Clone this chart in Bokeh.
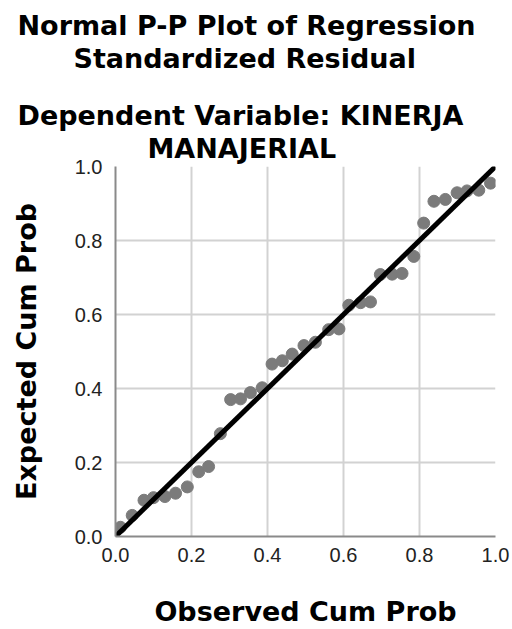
from bokeh.plotting import figure
from bokeh.models import Range1d, FixedTicker, Title, PrintfTickFormatter
from bokeh.embed import file_html
from bokeh.resources import INLINE

# ---- data ----
observed_cum_prob = [0.013, 0.044, 0.075, 0.100, 0.130, 0.158, 0.189, 0.219, 0.245,
                     0.276, 0.303, 0.329, 0.355, 0.386, 0.412, 0.439, 0.465, 0.496,
                     0.526, 0.561, 0.588, 0.614, 0.645, 0.671, 0.697, 0.728, 0.754,
                     0.785, 0.811, 0.838, 0.868, 0.899, 0.925, 0.956, 0.987]
expected_cum_prob = [0.025, 0.057, 0.098, 0.105, 0.108, 0.117, 0.134, 0.175, 0.189,
                     0.278, 0.370, 0.372, 0.389, 0.402, 0.466, 0.475, 0.493, 0.516,
                     0.525, 0.559, 0.561, 0.625, 0.632, 0.634, 0.708, 0.709, 0.711,
                     0.757, 0.847, 0.906, 0.911, 0.929, 0.934, 0.936, 0.955]
diag_x = [0.0, 1.0]
diag_y = [0.0, 1.0]
tick_values = [0.0, 0.2, 0.4, 0.6, 0.8, 1.0]
title_lines = ["Normal P-P Plot of Regression", "Standardized Residual",
               "Dependent Variable: KINERJA", "MANAJERIAL"]
x_title = "Observed Cum Prob"
y_title = "Expected Cum Prob"

p = figure(width=512, height=629, output_backend="svg", toolbar_location=None,
           x_range=Range1d(0, 1), y_range=Range1d(0, 1),
           min_border_left=115, min_border_right=17, min_border_top=0, min_border_bottom=93)
p.title.visible = False
p.outline_line_color = None
p.background_fill_color = "white"
p.border_fill_color = "white"

for ax in (p.xaxis[0], p.yaxis[0]):
    ax.ticker = FixedTicker(ticks=tick_values)
    ax.formatter = PrintfTickFormatter(format="%.1f")
    ax.major_tick_in = 0
    ax.major_tick_out = 0
    ax.minor_tick_in = 0
    ax.minor_tick_out = 0
    ax.axis_line_color = "#8a8a8a"
    ax.axis_line_width = 2
    ax.major_label_text_font = "Liberation Sans"
    ax.major_label_text_font_size = "20px"
    ax.major_label_text_color = "#222222"
    ax.axis_label_text_font = "DejaVu Sans"
    ax.axis_label_text_font_style = "bold"
    ax.axis_label_text_font_size = "27px"
    ax.axis_label_text_color = "#000000"

p.xaxis.axis_label = x_title
p.yaxis.axis_label = y_title
p.xaxis.major_label_standoff = 11
p.yaxis.major_label_standoff = 13
p.xaxis.axis_label_standoff = 31
p.yaxis.axis_label_standoff = 30

for g in (p.xgrid[0], p.ygrid[0]):
    g.ticker = FixedTicker(ticks=tick_values)
    g.grid_line_color = "#d2d2d2"
    g.grid_line_width = 2

p.scatter(observed_cum_prob, expected_cum_prob, size=12, fill_color="#7b7b7b",
          line_color="#7b7b7b", line_width=1)
p.line(diag_x, diag_y, line_color="#000000", line_width=5)


def title(text, offset=0, standoff=0):
    return Title(text=text, align="left", offset=offset, standoff=standoff,
                 text_font="DejaVu Sans", text_font_style="bold",
                 text_font_size="27px", text_color="#000000")


# stacked from the plot frame upward; " " titles act as spacers
stack = [
    title(" ", standoff=-30),
    title(title_lines[3], offset=32),
    title(title_lines[2], offset=-98),
    title(" ", standoff=-9),
    title(title_lines[1], offset=-42),
    title(title_lines[0], offset=-98),
    title(" ", standoff=-26),
]
for t in stack:
    p.add_layout(t, "above")

open("out.html", "w").write(file_html(p, INLINE))
